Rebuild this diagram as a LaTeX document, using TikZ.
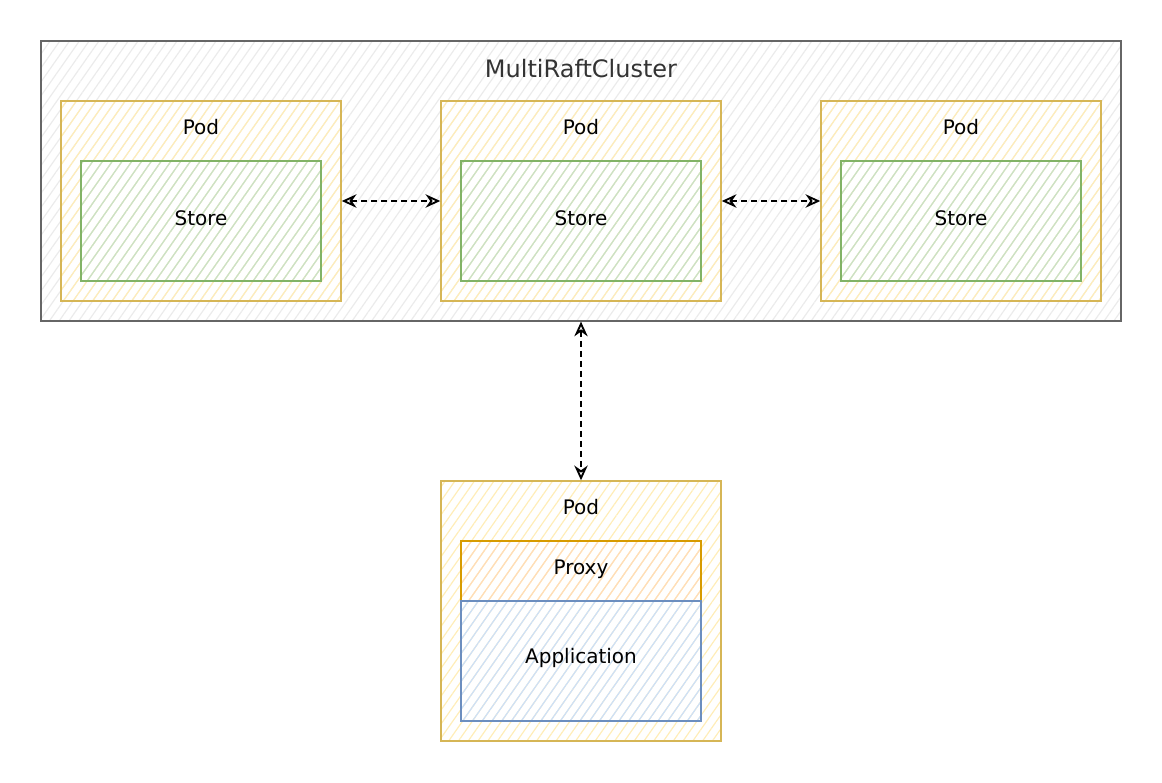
\documentclass[tikz,border=0pt]{standalone}
\usepackage{fontspec}
\setmainfont{DejaVu Sans}
\usetikzlibrary{patterns.meta,arrows.meta}
\definecolor{clstroke}{HTML}{666666}
\definecolor{clfill}{HTML}{EBEBEB}
\definecolor{podstroke}{HTML}{D6B656}
\definecolor{podfill}{HTML}{FFEDB8}
\definecolor{ststroke}{HTML}{82B366}
\definecolor{stfill}{HTML}{C9E2C7}
\definecolor{pxstroke}{HTML}{D79B00}
\definecolor{pxfill}{HTML}{FFDDB8}
\definecolor{apstroke}{HTML}{6C8EBF}
\definecolor{apfill}{HTML}{CCE0FA}
\definecolor{titlecol}{HTML}{333333}
\tikzset{
  hatch/.style={pattern={Lines[angle=55,distance=6pt,line width=0.9pt]}, pattern color=#1},
  boxbase/.style={rectangle, inner sep=0pt, line width=1.1pt},
  clusterbox/.style={boxbase, draw=clstroke, hatch=clfill, minimum width=810pt, minimum height=210pt},
  podbox/.style={boxbase, draw=podstroke, hatch=podfill, minimum width=210pt, minimum height=150pt},
  bigpodbox/.style={boxbase, draw=podstroke, hatch=podfill, minimum width=210pt, minimum height=195pt},
  storebox/.style={boxbase, draw=ststroke, hatch=stfill, minimum width=180pt, minimum height=90pt},
  proxybox/.style={boxbase, draw=pxstroke, hatch=pxfill, minimum width=180pt, minimum height=45pt},
  appbox/.style={boxbase, draw=apstroke, hatch=apfill, minimum width=180pt, minimum height=90pt},
  lbl/.style={inner sep=0pt, font=\fontsize{15pt}{18pt}\selectfont},
  ttl/.style={inner sep=0pt, text=titlecol, font=\fontsize{18pt}{21pt}\selectfont},
  link/.style={dashed, dash pattern=on 4.5pt off 3pt, line width=1.4pt, {Stealth[open,length=11pt,width=10pt,inset=3.5pt]}-{Stealth[open,length=11pt,width=10pt,inset=3.5pt]}}
}
\begin{document}
\begin{tikzpicture}[x=0.75pt,y=-0.75pt]
\useasboundingbox (0,0) rectangle (1162,782);
\node[clusterbox] (cluster) at (581,181) {};
\node[ttl] (ctitle) at (581,69) {MultiRaftCluster};
\node[podbox] (pod1) at (201,201) {};
\node[podbox] (pod2) at (581,201) {};
\node[podbox] (pod3) at (961,201) {};
\node[lbl] (pod1t) at (201,127) {Pod};
\node[lbl] (pod2t) at (581,127) {Pod};
\node[lbl] (pod3t) at (961,127) {Pod};
\node[storebox] (store1) at (201,221) {};
\node[storebox] (store2) at (581,221) {};
\node[storebox] (store3) at (961,221) {};
\node[lbl] (store1t) at (201,218) {Store};
\node[lbl] (store2t) at (581,218) {Store};
\node[lbl] (store3t) at (961,218) {Store};
\node[bigpodbox] (pod4) at (581,611) {};
\node[lbl] (pod4t) at (581,507) {Pod};
\node[proxybox] (proxy) at (581,571) {};
\node[appbox] (app) at (581,661) {};
\node[lbl] (proxyt) at (581,569) {Proxy};
\node[lbl] (appt) at (581,658) {Application};
\draw[link] (pod1.east) -- (pod2.west);
\draw[link] (pod2.east) -- (pod3.west);
\draw[link] (cluster.south) -- (pod4.north);
\end{tikzpicture}
\end{document}
